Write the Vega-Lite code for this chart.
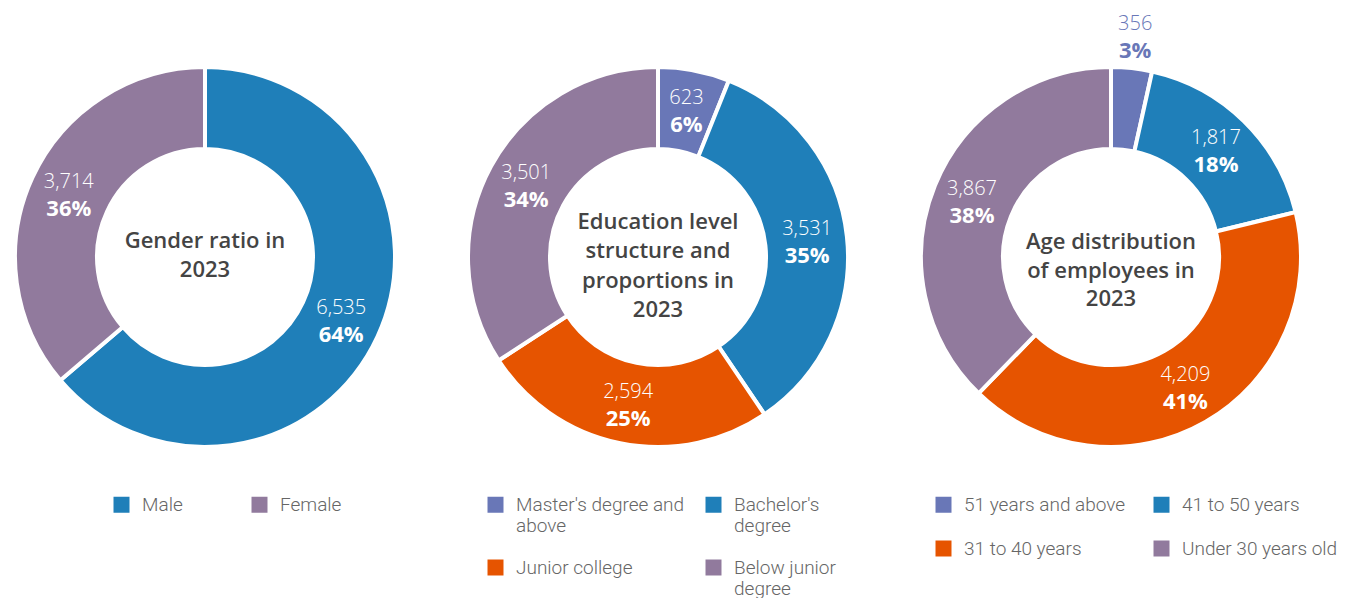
{
  "$schema": "https://vega.github.io/schema/vega-lite/v6.json",
  "padding": {"left": 5, "top": 14, "right": 5, "bottom": 0},
  "spacing": 53,
  "config": {"view": {"stroke": null}, "font": "Roboto"},
  "resolve": {"scale": {"color": "independent", "theta": "independent"}, "legend": {"color": "independent"}},
  "hconcat": [
    {
      "width": 400, "height": 400,
      "data": {"values": [
        {"category": "Male", "value": 6535, "pct": "64%", "order": 1},
        {"category": "Female", "value": 3714, "pct": "36%", "order": 2}
      ]},
      "layer": [
        {"mark": {"type": "arc", "outerRadius": 190, "innerRadius": 108, "stroke": "white", "strokeWidth": 4},
         "encoding": {
           "theta": {"field": "value", "type": "quantitative", "stack": true},
           "order": {"field": "order", "type": "quantitative"},
           "color": {"field": "category", "type": "nominal",
             "scale": {"domain": ["Male", "Female"], "range": ["#1f7fb9", "#917a9d"]},
             "legend": {"orient": "none", "legendX": 107, "legendY": 438, "direction": "horizontal", "columns": 2, "columnPadding": 67, "title": null, "symbolType": "square", "symbolSize": 256, "symbolStrokeWidth": 0, "symbolOpacity": 1, "labelFont": "Roboto", "labelFontWeight": 300, "labelFontSize": 19, "labelColor": "#666666", "labelOffset": 11, "labelLimit": 300, "padding": 0}}
         }},
        {"mark": {"type": "text", "radius": {"expr": "datum.value < 500 ? 222 : 150"}, "dy": -12, "font": "Open Sans", "fontWeight": 300, "fontSize": 20},
         "encoding": {
           "theta": {"field": "value", "type": "quantitative", "stack": true},
           "order": {"field": "order", "type": "quantitative"},
           "text": {"field": "value", "type": "quantitative", "format": ","},
           "color": {"condition": {"test": "datum.value < 500", "value": "#6977b7"}, "value": "white"}
         }},
        {"mark": {"type": "text", "radius": {"expr": "datum.value < 500 ? 222 : 150"}, "dy": 15, "font": "Open Sans", "fontWeight": 700, "fontSize": 22},
         "encoding": {
           "theta": {"field": "value", "type": "quantitative", "stack": true},
           "order": {"field": "order", "type": "quantitative"},
           "text": {"field": "pct", "type": "nominal"},
           "color": {"condition": {"test": "datum.value < 500", "value": "#6977b7"}, "value": "white"}
         }},
        {"data": {"values": [{"t": ["Gender ratio in", "2023"]}]},
         "mark": {"type": "text", "font": "Open Sans", "fontWeight": 600, "fontSize": 22, "lineHeight": 29, "color": "#444444", "dy": -16},
         "encoding": {"text": {"field": "t"}}}
      ]
    },
    {
      "width": 400, "height": 400,
      "data": {"values": [
        {"category": "Master's degree and\nabove", "value": 623, "pct": "6%", "order": 1},
        {"category": "Bachelor's\ndegree", "value": 3531, "pct": "35%", "order": 2},
        {"category": "Junior college", "value": 2594, "pct": "25%", "order": 3},
        {"category": "Below junior\ndegree", "value": 3501, "pct": "34%", "order": 4}
      ]},
      "layer": [
        {"mark": {"type": "arc", "outerRadius": 190, "innerRadius": 108, "stroke": "white", "strokeWidth": 4},
         "encoding": {
           "theta": {"field": "value", "type": "quantitative", "stack": true},
           "order": {"field": "order", "type": "quantitative"},
           "color": {"field": "category", "type": "nominal",
             "scale": {"domain": ["Master's degree and\nabove", "Bachelor's\ndegree", "Junior college", "Below junior\ndegree"], "range": ["#6977b7", "#1f7fb9", "#e65400", "#917a9d"]},
             "legend": {"orient": "none", "legendX": 28, "legendY": 438, "direction": "horizontal", "columns": 2, "columnPadding": 19, "rowPadding": 22, "title": null, "symbolType": "square", "symbolSize": 256, "symbolStrokeWidth": 0, "symbolOpacity": 1, "labelFont": "Roboto", "labelFontWeight": 300, "labelFontSize": 19, "labelColor": "#666666", "labelOffset": 11, "labelLimit": 300, "padding": 0, "labelExpr": "split(datum.label, '\\n')",
               "encode": {"labels": {"update": {"lineHeight": {"value": 22}}}}}}
         }},
        {"mark": {"type": "text", "radius": {"expr": "datum.value < 500 ? 222 : 150"}, "dy": -12, "font": "Open Sans", "fontWeight": 300, "fontSize": 20},
         "encoding": {
           "theta": {"field": "value", "type": "quantitative", "stack": true},
           "order": {"field": "order", "type": "quantitative"},
           "text": {"field": "value", "type": "quantitative", "format": ","},
           "color": {"condition": {"test": "datum.value < 500", "value": "#6977b7"}, "value": "white"}
         }},
        {"mark": {"type": "text", "radius": {"expr": "datum.value < 500 ? 222 : 150"}, "dy": 15, "font": "Open Sans", "fontWeight": 700, "fontSize": 22},
         "encoding": {
           "theta": {"field": "value", "type": "quantitative", "stack": true},
           "order": {"field": "order", "type": "quantitative"},
           "text": {"field": "pct", "type": "nominal"},
           "color": {"condition": {"test": "datum.value < 500", "value": "#6977b7"}, "value": "white"}
         }},
        {"data": {"values": [{"t": ["Education level", "structure and", "proportions in", "2023"]}]},
         "mark": {"type": "text", "font": "Open Sans", "fontWeight": 600, "fontSize": 22, "lineHeight": 29.3, "color": "#444444", "dy": -35},
         "encoding": {"text": {"field": "t"}}}
      ]
    },
    {
      "width": 400, "height": 400,
      "data": {"values": [
        {"category": "51 years and above", "value": 356, "pct": "3%", "order": 1},
        {"category": "41 to 50 years", "value": 1817, "pct": "18%", "order": 2},
        {"category": "31 to 40 years", "value": 4209, "pct": "41%", "order": 3},
        {"category": "Under 30 years old", "value": 3867, "pct": "38%", "order": 4}
      ]},
      "layer": [
        {"mark": {"type": "arc", "outerRadius": 190, "innerRadius": 108, "stroke": "white", "strokeWidth": 4},
         "encoding": {
           "theta": {"field": "value", "type": "quantitative", "stack": true},
           "order": {"field": "order", "type": "quantitative"},
           "color": {"field": "category", "type": "nominal",
             "scale": {"domain": ["51 years and above", "41 to 50 years", "31 to 40 years", "Under 30 years old"], "range": ["#6977b7", "#1f7fb9", "#e65400", "#917a9d"]},
             "legend": {"orient": "none", "legendX": 23, "legendY": 438, "direction": "horizontal", "columns": 2, "columnPadding": 26, "rowPadding": 24, "title": null, "symbolType": "square", "symbolSize": 256, "symbolStrokeWidth": 0, "symbolOpacity": 1, "labelFont": "Roboto", "labelFontWeight": 300, "labelFontSize": 19, "labelColor": "#666666", "labelOffset": 11, "labelLimit": 300, "padding": 0}}
         }},
        {"mark": {"type": "text", "radius": {"expr": "datum.value < 500 ? 222 : 150"}, "dy": -12, "font": "Open Sans", "fontWeight": 300, "fontSize": 20},
         "encoding": {
           "theta": {"field": "value", "type": "quantitative", "stack": true},
           "order": {"field": "order", "type": "quantitative"},
           "text": {"field": "value", "type": "quantitative", "format": ","},
           "color": {"condition": {"test": "datum.value < 500", "value": "#6977b7"}, "value": "white"}
         }},
        {"mark": {"type": "text", "radius": {"expr": "datum.value < 500 ? 222 : 150"}, "dy": 15, "font": "Open Sans", "fontWeight": 700, "fontSize": 22},
         "encoding": {
           "theta": {"field": "value", "type": "quantitative", "stack": true},
           "order": {"field": "order", "type": "quantitative"},
           "text": {"field": "pct", "type": "nominal"},
           "color": {"condition": {"test": "datum.value < 500", "value": "#6977b7"}, "value": "white"}
         }},
        {"data": {"values": [{"t": ["Age distribution", "of employees in", "2023"]}]},
         "mark": {"type": "text", "font": "Open Sans", "fontWeight": 600, "fontSize": 22, "lineHeight": 28.5, "color": "#444444", "dy": -15},
         "encoding": {"text": {"field": "t"}}}
      ]
    }
  ]
}
